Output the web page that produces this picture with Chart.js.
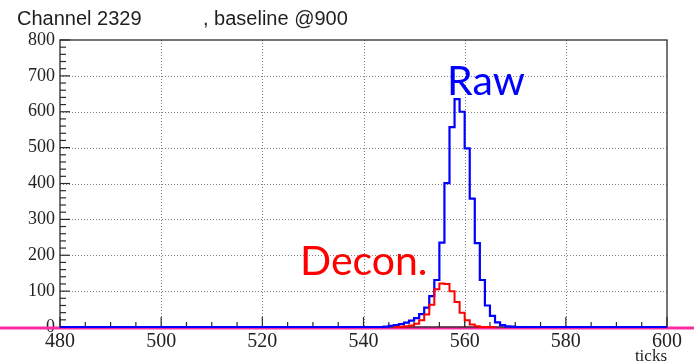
<!DOCTYPE html>
<html>
<head>
<meta charset="utf-8">
<title>Channel 2329</title>
<script src="https://cdn.jsdelivr.net/npm/chart.js@4.4.1/dist/chart.umd.min.js"></script>
<style>
  html, body { margin: 0; padding: 0; background: #ffffff; }
  #wrap { width: 694px; height: 362px; position: relative; }
</style>
</head>
<body>
<div id="wrap"><canvas id="c" width="694" height="362"></canvas></div>
<script>
// ---- labels ----
const channelTitle = 'Channel 2329';
const baselineNote = ', baseline @900';
const xAxisName = 'ticks';
const rawName = 'Raw';
const deconName = 'Decon.';

// ---- axis ticks ----
const xTickLabels = [480, 500, 520, 540, 560, 580, 600];
const yTickLabels = [0, 100, 200, 300, 400, 500, 600, 700, 800];

// ---- raw waveform: one count per tick, starting at rawFirstTick ----
const rawFirstTick = 544;
const rawCounts = [1, 3, 5, 8, 12, 18, 25, 36, 54, 86, 131, 235, 401, 557, 635, 600, 498, 358, 234, 131, 60, 31, 13, 5, 2, 1];

// ---- deconvolved waveform: one count per tick, starting at deconFirstTick ----
const deconFirstTick = 546;
const deconCounts = [0, 1, 2, 4, 9, 19, 35, 62, 105, 121, 120, 100, 70, 40, 19, 7, 2, 0, 0, 0];

// Build step-histogram points: lower bin edge -> bin content, plus a closing edge.
function histPoints(first, counts, lo, hi) {
  const pts = [];
  for (let t = lo; t < hi; t++) {
    const i = t - first;
    pts.push({ x: t, y: (i >= 0 && i < counts.length) ? counts[i] : 0 });
  }
  pts.push({ x: hi, y: 0 });
  return pts;
}

const xMin = xTickLabels[0], xMax = xTickLabels[xTickLabels.length - 1];
const yMin = yTickLabels[0], yMax = yTickLabels[yTickLabels.length - 1];

// Frame, dotted grid, inward tick marks and the pink zero line.
const framePlugin = {
  id: 'frame',
  beforeDatasetsDraw(chart) {
    const { ctx, chartArea: a, scales: { x, y } } = chart;
    ctx.save();

    // dotted grid at labelled ticks
    ctx.strokeStyle = '#7f7f7f';
    ctx.lineWidth = 1;
    ctx.setLineDash([1, 2]);
    xTickLabels.forEach(v => {
      if (v === xMin || v === xMax) return;
      const px = Math.round(x.getPixelForValue(v)) + 0.5;
      ctx.beginPath(); ctx.moveTo(px, a.top); ctx.lineTo(px, a.bottom); ctx.stroke();
    });
    yTickLabels.forEach(v => {
      if (v === yMin || v === yMax) return;
      const py = Math.round(y.getPixelForValue(v)) + 0.5;
      ctx.beginPath(); ctx.moveTo(a.left, py); ctx.lineTo(a.right, py); ctx.stroke();
    });
    ctx.setLineDash([]);

    // zero line across the whole width
    const y0 = y.getPixelForValue(0);
    ctx.fillStyle = '#fb2ba3';
    ctx.fillRect(0, y0 - 0.5, chart.width, 3);

    // frame
    ctx.strokeStyle = '#2a2a2a';
    ctx.lineWidth = 1.3;
    ctx.strokeRect(a.left, a.top, a.right - a.left, a.bottom - a.top);

    // x tick marks: major every 20, minor every 5
    ctx.lineWidth = 1.2;
    for (let v = xMin; v <= xMax; v += 5) {
      const px = x.getPixelForValue(v);
      const len = (v % 20 === 0) ? 10 : 5;
      ctx.beginPath(); ctx.moveTo(px, a.bottom); ctx.lineTo(px, a.bottom - len); ctx.stroke();
    }
    // y tick marks: major every 100, minor every 20
    for (let v = yMin; v <= yMax; v += 20) {
      const py = y.getPixelForValue(v);
      const len = (v % 100 === 0) ? 10 : 6;
      ctx.beginPath(); ctx.moveTo(a.left, py); ctx.lineTo(a.left + len, py); ctx.stroke();
    }
    ctx.restore();
  },
  afterDraw(chart) {
    const { ctx, chartArea: a } = chart;
    ctx.save();
    ctx.textBaseline = 'alphabetic';

    ctx.fillStyle = '#1e1e1e';
    ctx.font = '20px "Liberation Sans", Arial, sans-serif';
    ctx.textAlign = 'left';
    ctx.fillText(channelTitle, 17, 25);
    ctx.fillText(baselineNote, 203, 25);

    ctx.font = '17px "Liberation Serif", "Times New Roman", serif';
    ctx.textAlign = 'right';
    ctx.fillText(xAxisName, a.right, 361);

    ctx.textAlign = 'left';
    ctx.font = '41px Lato, "Open Sans", sans-serif';
    ctx.fillStyle = '#0000ff';
    ctx.fillText(rawName, 447, 95);
    ctx.fillStyle = '#ff0000';
    ctx.fillText(deconName, 300, 275);
    ctx.restore();
  }
};

new Chart(document.getElementById('c'), {
  type: 'line',
  data: {
    datasets: [
      {
        label: deconName,
        data: histPoints(deconFirstTick, deconCounts, deconFirstTick, deconFirstTick + deconCounts.length),
        borderColor: '#ff0000',
        borderWidth: 2,
        stepped: 'before',
        pointRadius: 0,
        fill: false,
        order: 0,
        clip: 6
      },
      {
        label: rawName,
        data: histPoints(rawFirstTick, rawCounts, xMin, xMax),
        borderColor: '#0000ff',
        borderWidth: 2.2,
        stepped: 'before',
        pointRadius: 0,
        fill: false,
        order: 1,
        clip: 6
      }
    ]
  },
  options: {
    responsive: false,
    animation: false,
    devicePixelRatio: 1,
    layout: { padding: { top: 40, right: 27, left: 0, bottom: 0 } },
    plugins: {
      legend: { display: false },
      tooltip: { enabled: false },
      title: { display: false }
    },
    scales: {
      x: {
        type: 'linear',
        min: xMin,
        max: xMax,
        grid: { display: false, drawTicks: false },
        border: { display: false },
        ticks: {
          stepSize: 20,
          autoSkip: false,
          maxRotation: 0,
          padding: 3,
          color: '#222222',
          font: { family: '"Liberation Serif", "Times New Roman", serif', size: 20 }
        },
        afterFit(s) { s.height = 35; }
      },
      y: {
        type: 'linear',
        min: yMin,
        max: yMax,
        grid: { display: false, drawTicks: false },
        border: { display: false },
        ticks: {
          stepSize: 100,
          padding: 5,
          color: '#222222',
          font: { family: '"Liberation Serif", "Times New Roman", serif', size: 18 }
        },
        afterFit(s) { s.width = 60; }
      }
    }
  },
  plugins: [framePlugin]
});
</script>
</body>
</html>
